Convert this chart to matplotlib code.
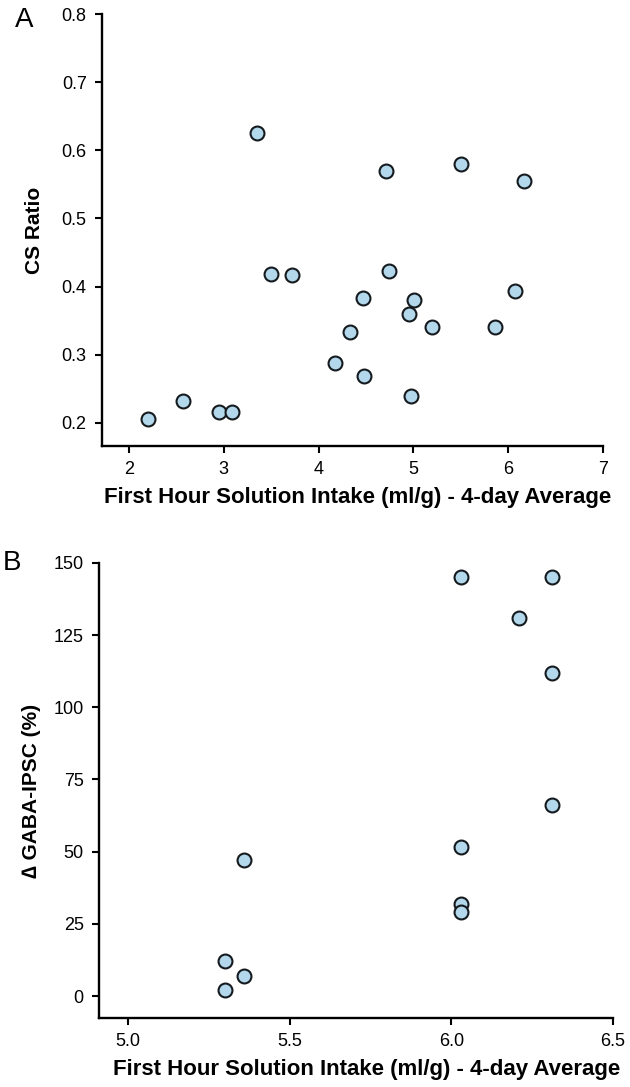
import matplotlib
matplotlib.use("Agg")
import matplotlib.pyplot as plt

plt.rcParams['font.family'] = ['Liberation Sans', 'DejaVu Sans']

# panel A: CS ratio vs intake
intake_a = [2.20, 2.57, 2.95, 3.09, 3.35, 3.50, 3.72, 4.17, 4.33, 4.47, 4.48,
            4.71, 4.74, 4.95, 4.98, 5.01, 5.20, 5.50, 5.86, 6.07, 6.17]
cs_ratio = [0.205, 0.232, 0.216, 0.216, 0.625, 0.419, 0.417, 0.288, 0.334, 0.383, 0.268,
            0.569, 0.423, 0.359, 0.240, 0.381, 0.341, 0.580, 0.340, 0.394, 0.555]

# panel B: delta GABA-IPSC vs intake
intake_b = [5.30, 5.30, 5.36, 5.36, 6.03, 6.03, 6.03, 6.03, 6.21, 6.31, 6.31, 6.31]
gaba_ipsc = [12, 2, 7, 47, 145, 51.5, 32, 29, 131, 145, 112, 66]

xlabel = "First Hour Solution Intake (ml/g) - 4-day Average"
fill = "#b4d8eb"
edge = "#151a1e"

fig = plt.figure(figsize=(6.3, 10.87), dpi=100)
ax1 = fig.add_axes([0.1619, 0.5897, 0.7952, 0.3974])
ax2 = fig.add_axes([0.1571, 0.0635, 0.8159, 0.4186])


def style(ax):
    for s in ['top', 'right']:
        ax.spines[s].set_visible(False)
    for s in ['left', 'bottom']:
        ax.spines[s].set_linewidth(1.7)
    ax.tick_params(direction='out', length=5, width=1.5, pad=6, labelsize=13)
    ax.set_xlabel(xlabel, fontsize=16, fontweight='bold', labelpad=6)


ax1.plot(intake_a, cs_ratio, 'o', ms=10, mfc=fill, mec=edge, mew=1.5)
ax1.set_xlim(1.715, 7)
ax1.set_ylim(0.166, 0.8)
ax1.set_xticks([2, 3, 4, 5, 6, 7])
ax1.set_yticks([0.2, 0.3, 0.4, 0.5, 0.6, 0.7, 0.8])
ax1.set_yticklabels(['0.2', '0.3', '0.4', '0.5', '0.6', '0.7', '0.8'])
style(ax1)
ax1.set_ylabel("CS Ratio", fontsize=15, fontweight='bold', labelpad=13)
ax1.xaxis.set_label_coords(0.51, -0.095)

ax2.plot(intake_b, gaba_ipsc, 'o', ms=10, mfc=fill, mec=edge, mew=1.5)
ax2.set_xlim(4.91, 6.5)
ax2.set_ylim(-7.6, 150)
ax2.set_xticks([5.0, 5.5, 6.0, 6.5])
ax2.set_xticklabels(['5.0', '5.5', '6.0', '6.5'])
ax2.set_yticks([0, 25, 50, 75, 100, 125, 150])
style(ax2)
ax2.set_ylabel("\u2206 GABA-IPSC (%)", fontsize=15, fontweight='bold', labelpad=9)
ax2.xaxis.set_label_coords(0.52, -0.09)

fig.text(0.024, 0.994, "A", fontsize=20, va='top', ha='left')
fig.text(0.005, 0.494, "B", fontsize=20, va='top', ha='left')

fig.savefig("out.png", dpi=100)
